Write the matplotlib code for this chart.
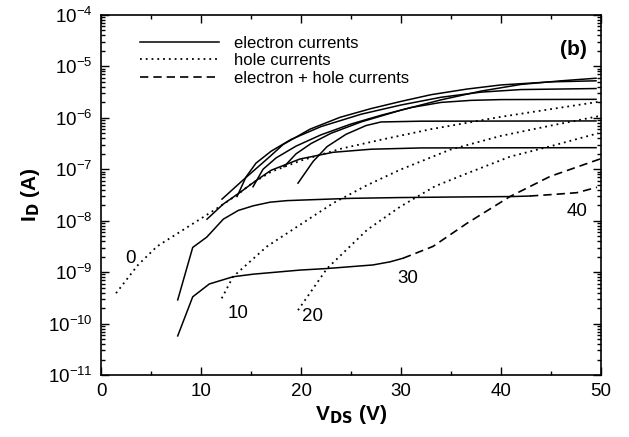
import numpy as np
import matplotlib
matplotlib.use("Agg")
import matplotlib.pyplot as plt
from matplotlib.lines import Line2D
from matplotlib.ticker import LogLocator, MultipleLocator, NullFormatter

plt.rcParams['font.family'] = ['Liberation Sans', 'DejaVu Sans']

# --- data: V_DS (V) and log10(I_D / A) ---

# electron currents (solid)
e1_v = [10.6, 12.2, 13.9, 15.5, 17.0, 19.9, 23.2, 27.0, 32.0, 49.5]
e1_i = [-7.97, -7.68, -7.45, -7.22, -7.02, -6.80, -6.67, -6.61, -6.585, -6.58]
e2_v = [19.7, 21.2, 22.6, 24.5, 26.5, 28.0, 32.0, 49.5]
e2_i = [-7.27, -6.85, -6.56, -6.32, -6.15, -6.08, -6.065, -6.06]
e3_v = [12.1, 14.2, 16.9, 18.2, 20.9, 23.9, 27.0, 30.0, 33.0, 36.6, 40.0, 45.0, 49.5]
e3_i = [-7.58, -7.21, -6.75, -6.52, -6.22, -5.99, -5.82, -5.68, -5.55, -5.44, -5.36, -5.30, -5.28]
e4_v = [13.6, 14.5, 15.5, 17.0, 19.0, 22.0, 26.0, 30.0, 34.0, 38.0, 42.0, 49.5]
e4_i = [-7.53, -7.15, -6.88, -6.65, -6.42, -6.17, -5.93, -5.75, -5.60, -5.50, -5.45, -5.43]
e5_v = [15.2, 16.2, 17.5, 19.5, 22.0, 25.0, 28.0, 31.0, 34.0, 37.0, 40.0, 49.5]
e5_i = [-7.34, -7.00, -6.78, -6.55, -6.33, -6.12, -5.95, -5.80, -5.70, -5.66, -5.645, -5.64]
e6_v = [18.3, 19.5, 21.0, 23.0, 26.0, 30.0, 34.0, 38.0, 42.0, 46.0, 49.5]
e6_i = [-6.95, -6.70, -6.50, -6.30, -6.08, -5.85, -5.65, -5.48, -5.35, -5.28, -5.23]
e7_v = [7.67, 9.17, 10.57, 12.23, 13.73, 15.23, 16.9, 18.57, 19.9, 25.0, 29.9, 35.0, 41.2, 42.9]
e7_i = [-9.54, -8.52, -8.32, -7.97, -7.80, -7.71, -7.64, -7.61, -7.60, -7.565, -7.55, -7.54, -7.53, -7.52]
e8_v = [7.67, 9.17, 10.83, 13.2, 15.2, 19.9, 22.6, 27.2, 28.9, 30.2]
e8_i = [-10.24, -9.48, -9.23, -9.09, -9.04, -8.96, -8.93, -8.86, -8.80, -8.73]

# hole currents (dotted)
h0_v = [1.5, 3.7, 5.6, 8.2, 11.6, 13.6, 14.9, 17.0, 20.0, 24.0, 27.9, 33.0, 40.0, 45.0, 49.7]
h0_i = [-9.41, -8.86, -8.50, -8.18, -7.76, -7.50, -7.30, -7.05, -6.83, -6.60, -6.43, -6.22, -5.98, -5.83, -5.69]
h10_v = [12.07, 13.2, 16.6, 19.9, 23.2, 26.6, 29.9, 34.9, 40.0, 45.0, 49.7]
h10_i = [-9.51, -9.09, -8.50, -8.08, -7.66, -7.31, -7.01, -6.62, -6.35, -6.15, -5.97]
h20_v = [19.7, 22.6, 26.6, 29.9, 33.4, 36.6, 40.9, 45.0, 49.7]
h20_i = [-9.74, -8.93, -8.18, -7.73, -7.33, -7.08, -6.755, -6.55, -6.30]

# electron + hole currents (dashed)
d30_v = [30.2, 33.2, 36.6, 40.9, 44.9, 49.9]
d30_i = [-8.73, -8.50, -8.05, -7.53, -7.14, -6.80]
d40_v = [42.9, 45.2, 47.6, 49.6]
d40_i = [-7.52, -7.49, -7.455, -7.35]

# curve labels (V_G)
lab_text = ["0", "10", "20", "30", "40"]
lab_v = [2.9, 13.7, 21.1, 30.7, 47.6]
lab_i = [-8.73, -9.80, -9.87, -9.12, -7.82]

# --- plotting ---
fig = plt.figure(figsize=(6.29, 4.37), dpi=100)
ax = fig.add_axes([0.1606, 0.1419, 0.7949, 0.8238])

lw = 1.1
dot = (0, (1, 2.2))
dash = (0, (5, 3))
for v, i in [(e1_v, e1_i), (e2_v, e2_i), (e3_v, e3_i), (e4_v, e4_i),
             (e5_v, e5_i), (e6_v, e6_i), (e7_v, e7_i), (e8_v, e8_i)]:
    ax.plot(v, 10.0 ** np.array(i), color='black', lw=lw, ls='-')
for v, i in [(h0_v, h0_i), (h10_v, h10_i), (h20_v, h20_i)]:
    ax.plot(v, 10.0 ** np.array(i), color='black', lw=1.3, ls=dot)
for v, i in [(d30_v, d30_i), (d40_v, d40_i)]:
    ax.plot(v, 10.0 ** np.array(i), color='black', lw=1.2, ls=dash)

for t, v, i in zip(lab_text, lab_v, lab_i):
    ax.text(v, 10.0 ** i, t, fontsize=13.5, ha='center', va='center')

ax.set_yscale('log')
ax.set_xlim(0, 50)
ax.set_ylim(1e-11, 1e-4)

ax.xaxis.set_major_locator(MultipleLocator(10))
ax.xaxis.set_minor_locator(MultipleLocator(5))
ax.yaxis.set_major_locator(LogLocator(base=10, numticks=20))
ax.yaxis.set_minor_locator(LogLocator(base=10, subs=np.arange(2, 10), numticks=20))
ax.yaxis.set_minor_formatter(NullFormatter())
ax.tick_params(which='both', direction='in', top=True, right=True, labelsize=13.5, width=1.0)
ax.tick_params(which='major', length=6, pad=6)
ax.tick_params(which='minor', length=3)
for s in ax.spines.values():
    s.set_linewidth(1.2)

ax.set_xlabel(r'V$_{\mathbf{DS}}$ (V)', fontsize=15, fontweight='bold', labelpad=2)
ax.set_ylabel(r'I$_{\mathbf{D}}$ (A)', fontsize=15, fontweight='bold', labelpad=4)

handles = [Line2D([], [], color='black', lw=lw, ls='-'),
           Line2D([], [], color='black', lw=1.3, ls=dot),
           Line2D([], [], color='black', lw=1.2, ls=dash)]
labels = ['electron currents', 'hole currents', 'electron + hole currents']
ax.legend(handles, labels, loc='upper left', bbox_to_anchor=(0.055, 0.975), frameon=False,
          fontsize=12, handlelength=4.7, handletextpad=0.9, labelspacing=0.15, borderpad=0.2)

ax.text(0.945, 0.905, '(b)', transform=ax.transAxes, fontsize=15, fontweight='bold',
        ha='center', va='center')

fig.savefig('out.png', dpi=100)
